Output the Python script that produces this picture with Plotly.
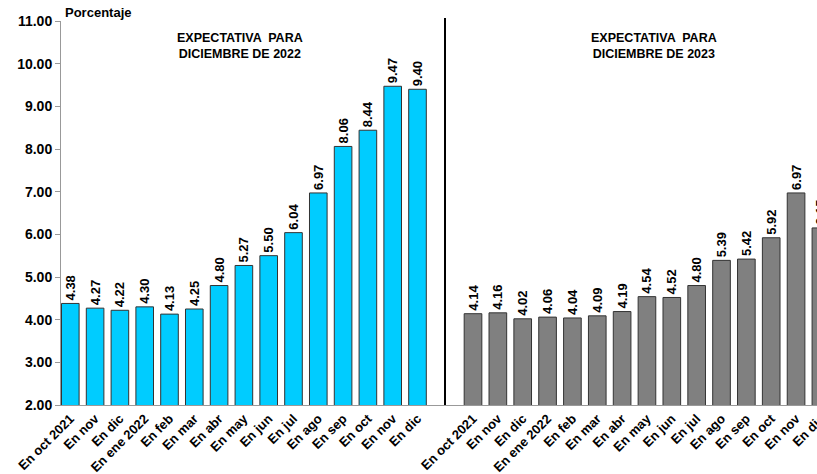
import plotly.graph_objects as go

labels = ["En oct 2021", "En nov", "En dic", "En ene 2022", "En feb", "En mar", "En abr",
          "En may", "En jun", "En jul", "En ago", "En sep", "En oct", "En nov", "En dic"]
exp_2022 = [4.38, 4.27, 4.22, 4.30, 4.13, 4.25, 4.80, 5.27, 5.50, 6.04, 6.97, 8.06, 8.44, 9.47, 9.40]
exp_2023 = [4.14, 4.16, 4.02, 4.06, 4.04, 4.09, 4.19, 4.54, 4.52, 4.80, 5.39, 5.42, 5.92, 6.97, 6.15]
y_ticks = [2, 3, 4, 5, 6, 7, 8, 9, 10, 11]

FONT = "Liberation Sans, Arial, sans-serif"
idx = list(range(len(labels)))

# The original chart runs past the right edge of the picture: the figure is drawn a bit
# wider than the 817 px window and the overflow is hidden.
FIG_W = 835
PLOT_L = 61
PLOT_W = FIG_W - PLOT_L


def px(x):
    return (x - PLOT_L) / PLOT_W


fig = go.Figure()
fig.add_trace(go.Bar(
    x=idx, y=exp_2022, xaxis="x", yaxis="y",
    marker=dict(color="#00CCFF", line=dict(color="#333333", width=1)),
    text=[f"{v:.2f}" for v in exp_2022], textposition="outside", textangle=-90,
    constraintext="none",
    textfont=dict(family=FONT, size=13, color="#000000", weight="bold"),
    cliponaxis=False, showlegend=False, hoverinfo="skip",
))
fig.add_trace(go.Bar(
    x=idx, y=exp_2023, xaxis="x2", yaxis="y",
    marker=dict(color="#808080", line=dict(color="#333333", width=1)),
    text=[f"{v:.2f}" for v in exp_2023], textposition="outside", textangle=-90,
    constraintext="none",
    textfont=dict(family=FONT, size=13, color="#000000", weight="bold"),
    cliponaxis=False, showlegend=False, hoverinfo="skip",
))

split = px(445)
tickfont = dict(family=FONT, size=13, color="#000000", weight="bold")
fig.update_layout(
    width=FIG_W, height=474,
    margin=dict(l=PLOT_L, r=0, t=21, b=69),
    paper_bgcolor="white", plot_bgcolor="white",
    bargap=0.29,
    xaxis=dict(domain=[0, split], range=[-0.375, 15.109], tickvals=idx, ticktext=labels,
               tickangle=-45, tickfont=tickfont, showline=True, linecolor="#999999",
               linewidth=1, showgrid=False, zeroline=False, ticks="", automargin=False),
    xaxis2=dict(domain=[split, 1], range=[-1.127, 14.567], tickvals=idx, ticktext=labels,
                tickangle=-45, tickfont=tickfont, showline=True, linecolor="#999999",
                linewidth=1, showgrid=False, zeroline=False, ticks="", anchor="y",
                automargin=False),
    yaxis=dict(range=[2, 11], tickvals=y_ticks, tickformat=".2f",
               tickfont=dict(family=FONT, size=14, color="#000000", weight="bold"),
               showline=True, linecolor="#999999", linewidth=1, ticks="outside",
               ticklen=5, tickcolor="#999999", showgrid=False, zeroline=False,
               automargin=False),
    shapes=[dict(type="line", xref="paper", yref="paper", x0=split, x1=split,
                 y0=0, y1=1.008, line=dict(color="#000000", width=2))],
    annotations=[
        dict(text="Porcentaje", xref="paper", yref="paper", x=px(63), y=1.021,
             xanchor="left", yanchor="middle", showarrow=False,
             font=dict(family=FONT, size=13, color="#000000", weight="bold")),
        dict(text="EXPECTATIVA  PARA<br>DICIEMBRE DE 2022", xref="paper", yref="paper",
             x=px(240), y=0.936, xanchor="center", yanchor="middle", showarrow=False,
             font=dict(family=FONT, size=12.5, color="#000000", weight="bold")),
        dict(text="EXPECTATIVA  PARA<br>DICIEMBRE DE 2023", xref="paper", yref="paper",
             x=px(653.5), y=0.936, xanchor="center", yanchor="middle", showarrow=False,
             font=dict(family=FONT, size=12.5, color="#000000", weight="bold")),
    ],
)

fig.write_html("out.html", config={"displayModeBar": False},
               post_script="document.body.style.margin='0px';document.body.style.overflow='hidden';")
